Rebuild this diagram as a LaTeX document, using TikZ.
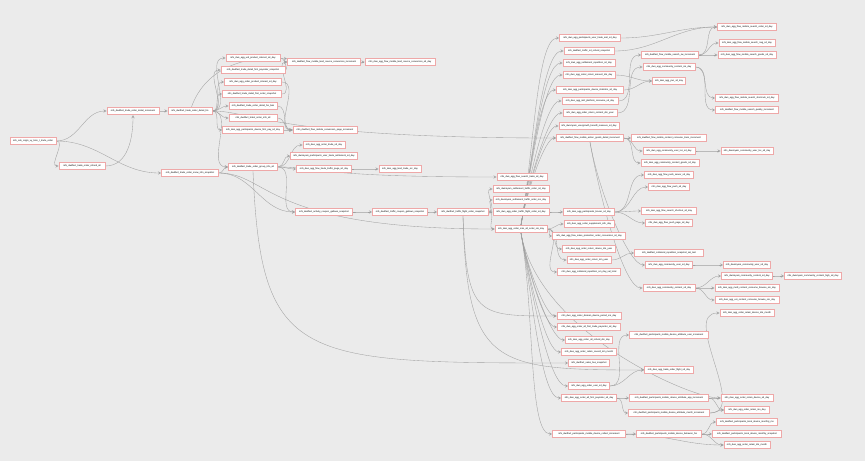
\documentclass[tikz,border=0pt]{standalone}
\usepackage{fontspec}
\setmainfont{Liberation Sans}
\pgfdeclarelayer{bg}
\pgfsetlayers{bg,main}
\definecolor{canvas}{RGB}{235,235,235}
\definecolor{boxline}{RGB}{238,168,168}
\definecolor{wire}{RGB}{160,160,160}
\tikzset{
  tbl/.style={draw=boxline, line width=0.9pt, fill=white, minimum height=7.5pt,
    inner xsep=1pt, inner ysep=0pt, font=\fontsize{2.3}{2.5}\selectfont},
  link/.style={draw=wire, line width=0.35pt, ->, >=stealth, out=0, in=180},
  rise/.style={out=80, in=180, in looseness=0.3},
  sink/.style={out=-80, in=180, in looseness=0.3},
}
\begin{document}
\begin{tikzpicture}[x=1pt,y=-1pt]
  \useasboundingbox (0,0) rectangle (865,461);

  % source and detail tables
  \node[tbl, minimum width=46pt] (src) at (33,141) {mfs\_ods\_origin\_xy\_bms\_t\_trade\_order};
  \node[tbl, minimum width=52pt] (dinc) at (133,111) {mfs\_dwdfact\_trade\_order\_detail\_increment};
  \node[tbl, minimum width=44pt] (dhis) at (190,111) {mfs\_dwdfact\_trade\_order\_detail\_his};
  \node[tbl, minimum width=46pt] (refd) at (82,166) {mfs\_dwdfact\_trade\_order\_refund\_all};
  \node[tbl, minimum width=57pt] (snow) at (190,173) {mfs\_dwdfact\_trade\_order\_snow\_info\_snapshot};

  % first fan out
  \node[tbl, minimum width=54pt] (a1) at (253,58) {mfs\_dws\_agg\_uid\_product\_interact\_sd\_day};
  \node[tbl, minimum width=64pt] (a2) at (253,70) {mfs\_dwdfact\_trade\_detail\_first\_payorder\_snapshot};
  \node[tbl, minimum width=57pt] (a3) at (253,82) {mfs\_dws\_agg\_order\_product\_interact\_sd\_day};
  \node[tbl, minimum width=59pt] (a4) at (252,94) {mfs\_dwdfact\_trade\_detail\_first\_order\_snapshot};
  \node[tbl, minimum width=48pt] (a5) at (253,106) {mfs\_dwdfact\_trade\_order\_detail\_his\_bak};
  \node[tbl, minimum width=48pt] (a6) at (253,118) {mfs\_dwdfact\_ticket\_order\_info\_all};
  \node[tbl, minimum width=61pt] (a7) at (253,130) {mfs\_dws\_agg\_participants\_device\_first\_pay\_sd\_day};
  \node[tbl, minimum width=73pt] (b1) at (324,62) {mfs\_dwdfact\_flow\_mobile\_land\_source\_conversion\_increment};
  \node[tbl, minimum width=70pt] (b2) at (400,62) {mfs\_dws\_agg\_flow\_mobile\_land\_source\_conversion\_sd\_day};
  \node[tbl, minimum width=64pt] (b3) at (325,130) {mfs\_dwdfact\_flow\_mobile\_conversion\_page\_increment};

  % group info and coupons
  \node[tbl, minimum width=49pt] (c1) at (253,167) {mfs\_dwdfact\_trade\_order\_group\_info\_all};
  \node[tbl, minimum width=42pt] (c2) at (324,145) {mfs\_dws\_agg\_order\_trade\_sd\_day};
  \node[tbl, minimum width=67pt] (c3) at (324,156) {mfs\_dwsmyam\_participants\_user\_trade\_settlement\_sd\_day};
  \node[tbl, minimum width=55pt] (c4) at (324,169) {mfs\_dws\_agg\_flow\_trade\_traffic\_page\_sd\_day};
  \node[tbl, minimum width=42pt] (c5) at (400,169) {mfs\_dws\_agg\_land\_trade\_src\_day};
  \node[tbl, minimum width=57pt] (c6) at (324,212) {mfs\_dwdfact\_activity\_coupon\_gallows\_snapshot};
  \node[tbl, minimum width=55pt] (c7) at (400,212) {mfs\_dwdfact\_traffic\_coupon\_gallows\_snapshot};
  \node[tbl, minimum width=51pt] (c8) at (463,212) {mfs\_dwdfact\_traffic\_flight\_order\_snapshot};
  \node[tbl, minimum width=50pt] (e1) at (522,177) {mfs\_dws\_agg\_flow\_search\_trade\_sd\_day};
  \node[tbl, minimum width=56pt] (e2) at (521,189) {mfs\_dwsmyam\_settlement\_traffic\_order\_sd\_day};
  \node[tbl, minimum width=56pt] (e3) at (521,200) {mfs\_dwsmyam\_settlement\_traffic\_order\_ms\_day};
  \node[tbl, minimum width=56pt] (e4) at (521,212) {mfs\_dws\_agg\_order\_traffic\_flight\_order\_sd\_day};
  \node[tbl, minimum width=52pt] (e5) at (521,229) {mfs\_dws\_agg\_order\_sms\_all\_order\_sm\_day};

  % upper right
  \node[tbl, minimum width=61pt] (r1) at (590,38) {mfs\_dws\_agg\_participants\_user\_trade\_amt\_sd\_day};
  \node[tbl, minimum width=50pt] (r2) at (589,51) {mfs\_dwdfact\_traffic\_sd\_refund\_snapshot};
  \node[tbl, minimum width=52pt] (r3) at (589,63) {mfs\_dws\_agg\_settlement\_repetition\_sd\_day};
  \node[tbl, minimum width=52pt] (r4) at (589,75) {mfs\_dws\_agg\_order\_return\_amount\_dm\_day};
  \node[tbl, minimum width=67pt] (r5) at (590,90) {mfs\_dws\_agg\_participants\_device\_statistics\_sd\_day};
  \node[tbl, minimum width=56pt] (r6) at (590,101) {mfs\_dws\_agg\_mkt\_platform\_consume\_sd\_day};
  \node[tbl, minimum width=54pt] (r7) at (590,113) {mfs\_dws\_agg\_order\_return\_content\_dm\_year};
  \node[tbl, minimum width=60pt] (r8) at (589,126) {mfs\_dwsmyam\_usergrowth\_benefit\_measure\_sd\_day};
  \node[tbl, minimum width=67pt] (r9) at (590,138) {mfs\_dwdfact\_flow\_mobile\_action\_goods\_detail\_increment};
  \node[tbl, minimum width=57pt] (t1) at (670,55) {mfs\_dwdfact\_flow\_mobile\_search\_sw\_increment};
  \node[tbl, minimum width=52pt] (t2) at (669,67) {mfs\_dws\_agg\_community\_content\_sm\_day};
  \node[tbl, minimum width=33pt] (t3) at (669,81) {mfs\_dws\_agg\_pvn\_sd\_day};
  \node[tbl, minimum width=59pt] (u1) at (747,27) {mfs\_dws\_agg\_flow\_mobile\_search\_order\_sd\_day};
  \node[tbl, minimum width=56pt] (u2) at (747,43) {mfs\_dws\_agg\_flow\_mobile\_search\_nag\_sd\_day};
  \node[tbl, minimum width=58pt] (u3) at (747,55) {mfs\_dws\_agg\_flow\_mobile\_search\_goods\_sd\_day};
  \node[tbl, minimum width=63pt] (u4) at (747,98) {mfs\_dws\_agg\_flow\_mobile\_search\_shortcuts\_sd\_day};
  \node[tbl, minimum width=63pt] (u5) at (747,110) {mfs\_dwdfact\_flow\_mobile\_search\_quality\_increment};

  % middle right
  \node[tbl, minimum width=75pt] (s1) at (669,138) {mfs\_dwdfact\_flow\_mobile\_content\_consume\_trans\_increment};
  \node[tbl, minimum width=52pt] (s2) at (669,151) {mfs\_dws\_agg\_community\_user\_loc\_sd\_day};
  \node[tbl, minimum width=52pt] (s3) at (747,151) {mfs\_dwsmyam\_community\_user\_loc\_sd\_day};
  \node[tbl, minimum width=58pt] (s4) at (670,163) {mfs\_dws\_agg\_community\_content\_goods\_sd\_day};
  \node[tbl, minimum width=49pt] (s5) at (669,175) {mfs\_dws\_agg\_flow\_push\_server\_sd\_day};
  \node[tbl, minimum width=41pt] (s6) at (669,187) {mfs\_dws\_agg\_flow\_push\_sd\_day};
  \node[tbl, minimum width=55pt] (s7) at (669,211) {mfs\_dws\_agg\_flow\_search\_shortcut\_sd\_day};
  \node[tbl, minimum width=47pt] (s8) at (669,223) {mfs\_dws\_agg\_flow\_push\_page\_sd\_day};
  \node[tbl, minimum width=69pt] (s9) at (669,253) {mfs\_dwdfact\_collateral\_repetition\_snapshot\_sal\_test};
  \node[tbl, minimum width=47pt] (s10) at (669,265) {mfs\_dws\_agg\_community\_user\_sd\_day};
  \node[tbl, minimum width=52pt] (s11) at (669,288) {mfs\_dws\_agg\_community\_content\_sd\_day};
  \node[tbl, minimum width=51pt] (v1) at (589,212) {mfs\_dws\_agg\_participants\_bruser\_sd\_day};
  \node[tbl, minimum width=50pt] (v2) at (589,224) {mfs\_dws\_agg\_order\_supplement\_info\_day};
  \node[tbl, minimum width=73pt] (v3) at (589,236) {mfs\_dws\_agg\_flow\_sales\_promotion\_order\_conversion\_sd\_day};
  \node[tbl, minimum width=53pt] (v4) at (589,249) {mfs\_dws\_agg\_order\_return\_device\_dm\_year};
  \node[tbl, minimum width=44pt] (v5) at (589,260) {mfs\_dws\_agg\_order\_return\_dm\_year};
  \node[tbl, minimum width=63pt] (v6) at (589,272) {mfs\_dws\_agg\_collateral\_repetition\_sm\_day\_sal\_total};
  \node[tbl, minimum width=47pt] (w1) at (747,265) {mfs\_dwsmyam\_community\_user\_sd\_day};
  \node[tbl, minimum width=51pt] (w2) at (747,276) {mfs\_dwsmyam\_community\_content\_sd\_day};
  \node[tbl, minimum width=57pt] (w3) at (813,276) {mfs\_dwsmyam\_community\_content\_high\_sd\_day};
  \node[tbl, minimum width=64pt] (w4) at (747,288) {mfs\_dws\_agg\_multi\_content\_consume\_browse\_sm\_day};
  \node[tbl, minimum width=64pt] (w5) at (747,300) {mfs\_dws\_agg\_uni\_content\_consume\_browse\_sm\_day};
  \node[tbl, minimum width=54pt] (w6) at (747,313) {mfs\_dws\_agg\_order\_retain\_device\_dm\_month};

  % lower right
  \node[tbl, minimum width=64pt] (x1) at (589,316) {mfs\_dws\_agg\_order\_domain\_device\_period\_sm\_day};
  \node[tbl, minimum width=63pt] (x2) at (589,327) {mfs\_dws\_agg\_order\_all\_first\_trade\_payorder\_sd\_day};
  \node[tbl, minimum width=47pt] (x3) at (589,340) {mfs\_dws\_agg\_order\_all\_refund\_dm\_day};
  \node[tbl, minimum width=55pt] (x4) at (589,352) {mfs\_dws\_agg\_order\_retain\_coverd\_dm\_month};
  \node[tbl, minimum width=41pt] (x5) at (589,363) {mfs\_dwdfact\_sales\_bus\_snapshot};
  \node[tbl, minimum width=41pt] (x6) at (589,386) {mfs\_dws\_agg\_order\_user\_sd\_day};
  \node[tbl, minimum width=55pt] (x7) at (589,398) {mfs\_dws\_agg\_order\_all\_first\_payorder\_sd\_day};
  \node[tbl, minimum width=73pt] (x8) at (589,434) {mfs\_dwdfact\_participants\_mobile\_device\_collect\_increment};
  \node[tbl, minimum width=79pt] (y1) at (669,335) {mfs\_dwdfact\_participants\_mobile\_device\_attribute\_user\_increment};
  \node[tbl, minimum width=49pt] (y2) at (669,370) {mfs\_dws\_agg\_trade\_order\_flight\_sd\_day};
  \node[tbl, minimum width=79pt] (y3) at (669,398) {mfs\_dwdfact\_participants\_mobile\_device\_attribute\_app\_increment};
  \node[tbl, minimum width=81pt] (y4) at (669,413) {mfs\_dwdfact\_participants\_mobile\_device\_attribute\_month\_increment};
  \node[tbl, minimum width=65pt] (y5) at (669,434) {mfs\_dwdfact\_participants\_mobile\_device\_behavior\_his};
  \node[tbl, minimum width=52pt] (z1) at (747,398) {mfs\_dws\_agg\_order\_retain\_device\_sd\_day};
  \node[tbl, minimum width=45pt] (z2) at (747,410) {mfs\_dws\_agg\_order\_retain\_mo\_day};
  \node[tbl, minimum width=61pt] (z3) at (747,422) {mfs\_dwdfact\_participants\_local\_device\_monthly\_ms};
  \node[tbl, minimum width=69pt] (z4) at (747,434) {mfs\_dwdfact\_participants\_local\_device\_monthly\_snapshot};
  \node[tbl, minimum width=46pt] (z5) at (747,445) {mfs\_dws\_agg\_order\_retain\_dm\_month};

  \begin{pgfonlayer}{bg}
    \fill[canvas] (0,0) rectangle (865,461);

    % left part
    \draw[link] (src) to (dinc);
    \draw[link] (src) to (refd);
    \draw[link] (src) to (snow);
    \draw[link, in=-90] (refd) to (dinc.south);
    \draw[link] (dinc) to (dhis);
    \draw[link] (dhis) to (a1);
    \draw[link] (dhis) to (a2);
    \draw[link] (dhis) to (a3);
    \draw[link] (dhis) to (a4);
    \draw[link] (dhis) to (a5);
    \draw[link] (dhis) to (a6);
    \draw[link] (dhis) to (a7);
    \draw[link, out=70, in=175] (dhis) to (b1);
    \draw[link] (dhis) to (c1);
    \draw[link] (dhis.east) .. controls +(40,0) and +(-280,0) .. (r9.west);
    \draw[link] (a1) to (b1);
    \draw[link] (a2) to (b1);
    \draw[link] (a4) to (b1);
    \draw[link] (a3) to (b3);
    \draw[link] (a5) to (b3);
    \draw[link] (a6) to (b3);
    \draw[link] (a7) to (b3);
    \draw[link] (b1) to (b2);
    \draw[link] (snow) to (c1);
    \draw[link] (snow) to (c6);
    \draw[link] (snow.east) .. controls +(50,0) and +(-230,0) .. (e5.west);

    % middle part
    \draw[link] (c1) to (c2);
    \draw[link] (c1) to (c3);
    \draw[link] (c1) to (c4);
    \draw[link] (c1) to (c6);
    \draw[link] (c1.east) .. controls +(40,0) and +(-180,0) .. (e1.west);
    \draw[link] (c1.south) .. controls +(8,190) and +(-270,0) .. (x5.west);
    \draw[link] (c4) to (c5);
    \draw[link] (c6) to (c7);
    \draw[link] (c7) to (c8);
    \draw[link] (c8) to (e2);
    \draw[link] (c8) to (e3);
    \draw[link] (c8) to (e4);
    \draw[link] (c8) to (e5);
    \draw[link] (c8.south) .. controls +(4,100) and +(-80,0) .. (x1.west);
    \draw[link] (c8.south) .. controls +(4,150) and +(-150,0) .. (y2.west);

    % bundle from the order table
    \draw[link, rise] (e5.north) to (r1);
    \draw[link, rise] (e5.north) to (r2);
    \draw[link, rise] (e5.north) to (r3);
    \draw[link, rise] (e5.north) to (r4);
    \draw[link, rise] (e5.north) to (r5);
    \draw[link, rise] (e5.north) to (r6);
    \draw[link, rise] (e5.north) to (r7);
    \draw[link, rise] (e5.north) to (r8);
    \draw[link, rise] (e5.north) to (r9);
    \draw[link] (e4) to (v1);
    \draw[link] (e5) to (v2);
    \draw[link] (e5) to (v3);
    \draw[link] (e5) to (v4);
    \draw[link] (e5) to (v5);
    \draw[link] (e5) to (v6);
    \draw[link, sink] (e5.south) to (x1);
    \draw[link, sink] (e5.south) to (x2);
    \draw[link, sink] (e5.south) to (x3);
    \draw[link, sink] (e5.south) to (x4);
    \draw[link, sink] (e5.south) to (x6);
    \draw[link, sink] (e5.south) to (x7);
    \draw[link, sink] (e5.south) to (x8);
    \draw[link, sink] (e5.south) to (z1);

    % upper right
    \draw[link] (r1) to (u1);
    \draw[link] (r2) to (u1);
    \draw[link] (r6) to (t1);
    \draw[link] (r7) to (t2);
    \draw[link] (r4) to (t3);
    \draw[link] (r5) to (t3);
    \draw[link] (t1) to (u1);
    \draw[link] (t1) to (u2);
    \draw[link] (t1) to (u3);
    \draw[link] (t2) to (u4);
    \draw[link] (t2) to (u5);
    \draw[link] (r9) to (s1);
    \draw[link] (r9) to (s2);
    \draw[link] (r9) to (s4);
    \draw[link] (s2) to (s3);
    \draw[link, sink] (r9.south) to (s10);
    \draw[link, sink] (r9.south) to (s11);

    % middle right
    \draw[link] (v1) to (s5);
    \draw[link] (v1) to (s6);
    \draw[link] (v1) to (s7);
    \draw[link] (v1) to (s8);
    \draw[link] (v5) to (s9);
    \draw[link] (s10) to (w1);
    \draw[link] (s11) to (w2);
    \draw[link] (s11) to (w4);
    \draw[link] (s11) to (w5);
    \draw[link] (w2) to (w3);

    % lower right
    \draw[link] (x6) to (y1);
    \draw[link] (x6) to (y2);
    \draw[link] (x7) to (y3);
    \draw[link] (x7) to (y4);
    \draw[link] (x8) to (y5);
    \draw[link] (x8) to (z5);
    \draw[link] (y3) to (z1);
    \draw[link] (y3) to (z2);
    \draw[link] (y4) to (z2);
    \draw[link] (y4) to (w6);
    \draw[link] (y5) to (z3);
    \draw[link] (y5) to (z4);
    \draw[link] (y5) to (z5);
  \end{pgfonlayer}
\end{tikzpicture}
\end{document}
